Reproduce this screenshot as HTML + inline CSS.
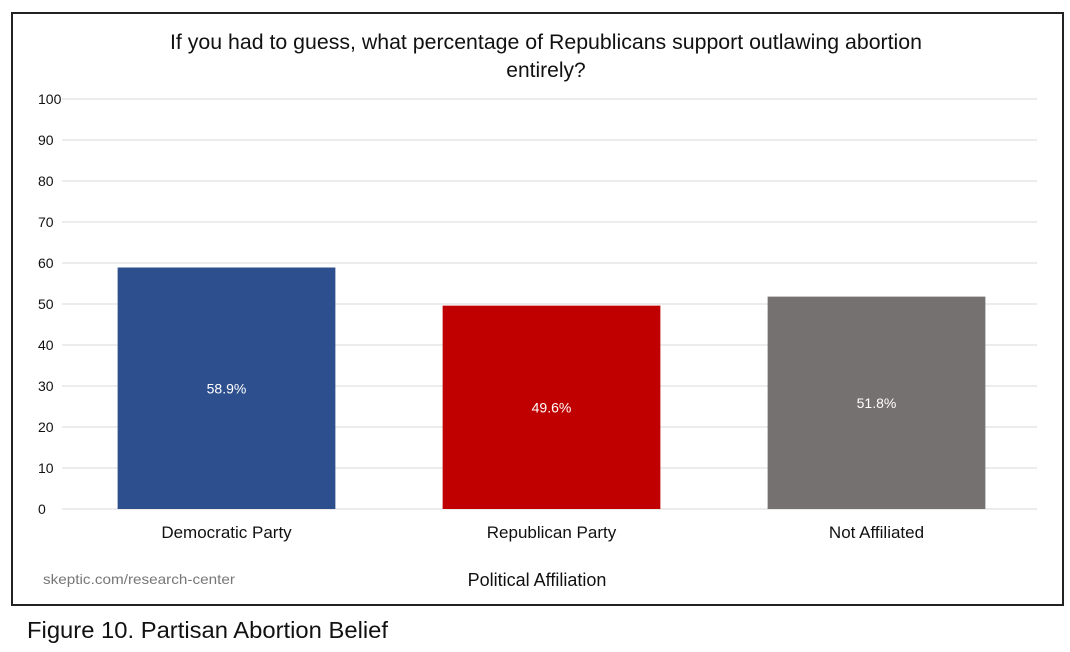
<!DOCTYPE html>
<html><head><meta charset="utf-8"><style>
html,body{margin:0;padding:0;background:#fff;width:1070px;height:652px;overflow:hidden;font-family:"Liberation Sans",sans-serif;}
#frame{position:absolute;left:11px;top:12px;width:1049px;height:590px;border:2px solid #222;box-sizing:content-box;}
svg{position:absolute;left:0;top:0;}
</style></head><body>
<div id="frame"></div>
<svg id="chart" width="1070" height="652">
<text x="546" y="49" font-size="21" text-anchor="middle" fill="#111" textLength="752" lengthAdjust="spacingAndGlyphs">If you had to guess, what percentage of Republicans support outlawing abortion</text>
<text x="546" y="77" font-size="21" text-anchor="middle" fill="#111">entirely?</text>
<text x="537" y="586" font-size="18" text-anchor="middle" fill="#111">Political Affiliation</text>
<text x="43" y="584" font-size="14" fill="#777" textLength="192" lengthAdjust="spacingAndGlyphs">skeptic.com/research-center</text>
<text x="27" y="638" font-size="23" fill="#111" textLength="361" lengthAdjust="spacingAndGlyphs">Figure 10. Partisan Abortion Belief</text>
<g id="plot"></g>
</svg>
<script>
const categories = ["Democratic Party","Republican Party","Not Affiliated"];
const values = [58.9, 49.6, 51.8];
const valueLabels = ["58.9%","49.6%","51.8%"];
const yTicks = [0,10,20,30,40,50,60,70,80,90,100];
const colors = ["#2d4f8e","#c00000","#767171"];
const NS="http://www.w3.org/2000/svg";
const g=document.getElementById('plot');
const x0=62,x1=1037,yBase=509,yTop=99;
const y=v=>yBase-(v/100)*(yBase-yTop);
const bw=(x1-x0)/categories.length;
function mk(t,a){const e=document.createElementNS(NS,t);for(const k in a)e.setAttribute(k,a[k]);g.appendChild(e);return e;}
yTicks.forEach(t=>{
  const l=mk('line',{x1:x0,x2:x1,y1:y(t),y2:y(t),stroke:'#d9d9d9','stroke-width':1});
  
  
  const tx=mk('text',{x:38,y:y(t)+5,'font-size':14,'text-anchor':'start',fill:'#111'});
  tx.textContent=t;
  
  
});
categories.forEach((c,i)=>{
  const cx=x0+2+bw*(i+0.5),w=bw*0.67;
  const r=mk('rect',{x:cx-w/2,y:y(values[i]),width:w,height:yBase-y(values[i]),fill:colors[i]});
  
  
  const vl=mk('text',{x:cx,y:(y(values[i])+yBase)/2+5,'font-size':14,'text-anchor':'middle',fill:'#fff'});
  vl.textContent=valueLabels[i];
  
  
  const cl=mk('text',{x:cx,y:538,'font-size':17,'text-anchor':'middle',fill:'#111'});
  cl.textContent=c;
  
  
});
</script>
</body></html>
